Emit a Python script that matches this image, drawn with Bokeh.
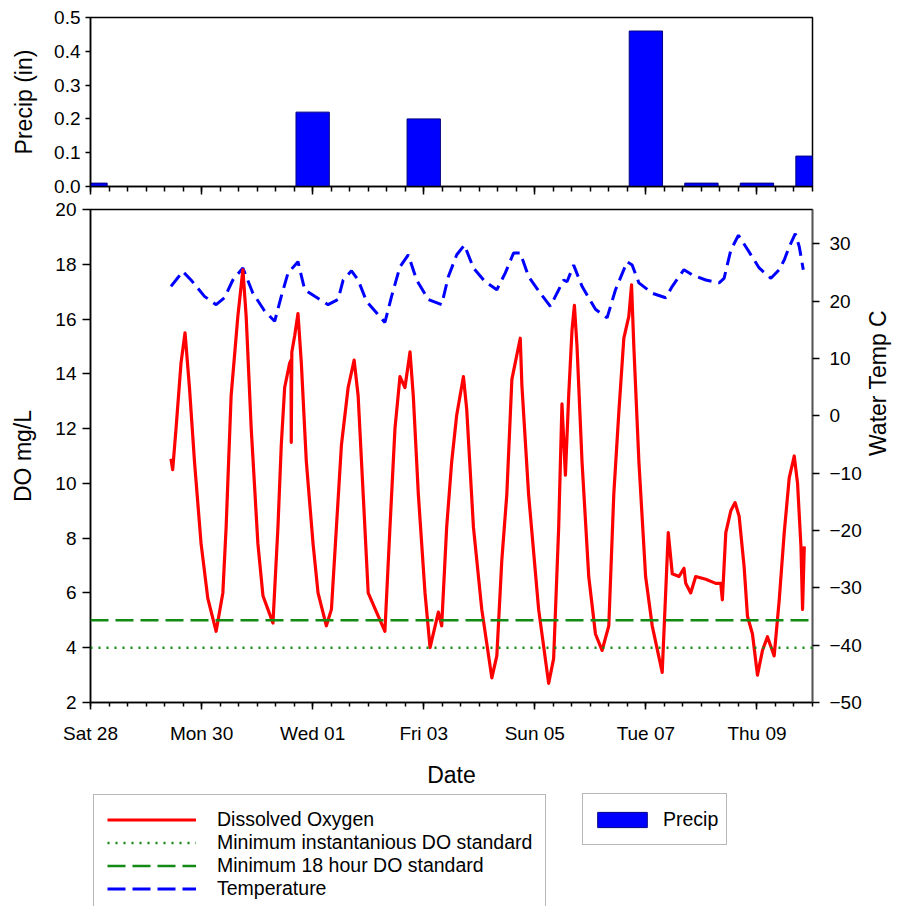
from datetime import datetime, timedelta
import math

from bokeh.plotting import figure
from bokeh.layouts import column
from bokeh.models import (Range1d, LinearAxis, FixedTicker, Span, Legend, LegendItem,
                          NumeralTickFormatter, DatetimeTickFormatter)
from bokeh.embed import file_html
from bokeh.resources import INLINE

# ---------------- data ----------------
START = datetime(2012, 7, 28)
END = datetime(2012, 8, 10)

precip_dates = ["2012-07-28", "2012-07-29", "2012-07-30", "2012-07-31", "2012-08-01",
                "2012-08-02", "2012-08-03", "2012-08-04", "2012-08-05", "2012-08-06",
                "2012-08-07", "2012-08-08", "2012-08-09", "2012-08-10"]
precip_in = [0.01, 0.0, 0.0, 0.0, 0.22, 0.0, 0.20, 0.0, 0.0, 0.0, 0.46, 0.01, 0.01, 0.09]

# dissolved oxygen: days after Sat 28 00:00, mg/L
do_days = [1.449, 1.480, 1.540, 1.630, 1.702, 1.782, 1.872, 1.991, 2.112, 2.262,
           2.383, 2.442, 2.532, 2.653, 2.744, 2.803, 2.894, 3.014, 3.105, 3.195,
           3.285, 3.375, 3.435, 3.496, 3.587, 3.610, 3.615, 3.625, 3.677, 3.736,
           3.796, 3.886, 4.007, 4.097, 4.247, 4.338, 4.428, 4.518, 4.639, 4.747,
           4.819, 4.910, 5.000, 5.181, 5.301, 5.392, 5.482, 5.572, 5.662, 5.753,
           5.812, 5.903, 6.023, 6.114, 6.264, 6.323, 6.413, 6.504, 6.594, 6.715,
           6.774, 6.895, 7.045, 7.226, 7.316, 7.406, 7.496, 7.587, 7.738, 7.767,
           7.888, 8.069, 8.249, 8.339, 8.430, 8.489, 8.551, 8.610, 8.670, 8.713,
           8.760, 8.850, 8.971, 9.092, 9.211, 9.332, 9.422, 9.513, 9.603, 9.693,
           9.742, 9.783, 9.874, 9.995, 10.114, 10.294, 10.356, 10.403, 10.475, 10.596,
           10.686, 10.717, 10.807, 10.897, 11.078, 11.258, 11.348, 11.377, 11.439, 11.529,
           11.606, 11.679, 11.769, 11.829, 11.919, 12.009, 12.099, 12.189, 12.310, 12.401,
           12.491, 12.581, 12.671, 12.731, 12.792, 12.821, 12.852]
do_mgl = [10.9, 10.5, 12.0, 14.4, 15.5, 13.5, 10.8, 7.8, 5.8, 4.6,
          6.0, 8.4, 13.2, 16.1, 17.8, 16.1, 12.0, 7.8, 5.9, 5.4,
          4.9, 8.4, 11.4, 13.5, 14.4, 14.5, 11.5, 14.8, 15.4, 16.2,
          14.4, 10.8, 7.8, 6.0, 4.8, 5.4, 8.4, 11.4, 13.5, 14.5,
          13.2, 9.6, 6.0, 5.15, 4.6, 8.4, 12.0, 13.9, 13.5, 14.8,
          13.2, 9.6, 6.0, 4.0, 5.3, 4.8, 8.4, 10.8, 12.5, 13.9,
          12.7, 8.4, 5.4, 2.9, 3.7, 7.2, 9.6, 13.8, 15.3, 13.6,
          9.6, 5.4, 2.7, 3.6, 8.4, 12.9, 10.3, 13.2, 15.6, 16.5,
          15.0, 10.8, 6.6, 4.5, 3.9, 4.8, 9.6, 12.6, 15.3, 16.1,
          17.25, 15.0, 10.8, 6.6, 4.8, 3.1, 6.0, 8.2, 6.7, 6.6,
          6.9, 6.35, 6.0, 6.6, 6.5, 6.35, 6.35, 5.75, 8.2, 9.0,
          9.3, 8.8, 6.95, 5.15, 4.5, 3.0, 3.9, 4.4, 3.7, 5.75,
          8.2, 10.2, 11.0, 10.0, 7.7, 5.4, 7.7]

# water temperature: days after Sat 28 00:00, deg C
temp_days = [1.449, 1.540, 1.661, 1.810, 2.052, 2.262, 2.413, 2.563, 2.744, 2.924,
             3.135, 3.316, 3.435, 3.556, 3.736, 3.857, 4.038, 4.278, 4.458, 4.549,
             4.699, 4.819, 4.969, 5.301, 5.421, 5.572, 5.722, 5.872, 6.083, 6.323,
             6.444, 6.594, 6.733, 6.895, 7.106, 7.316, 7.467, 7.617, 7.738, 7.888,
             8.099, 8.280, 8.399, 8.520, 8.580, 8.700, 8.850, 9.092, 9.301, 9.453,
             9.662, 9.753, 9.874, 10.114, 10.356, 10.475, 10.686, 10.836, 11.078, 11.318,
             11.408, 11.529, 11.666, 11.799, 12.040, 12.251, 12.401, 12.491, 12.581, 12.690,
             12.762, 12.834]
temp_c = [22.6, 23.7, 25.2, 23.7, 20.85, 19.4, 20.6, 23.7, 25.8, 21.4,
          18.3, 16.5, 20.85, 24.9, 26.9, 22.0, 20.85, 19.4, 20.3, 23.7,
          25.3, 23.7, 20.0, 16.3, 20.85, 26.0, 28.1, 23.7, 20.3, 19.4,
          24.3, 28.1, 29.8, 25.8, 23.4, 22.0, 24.9, 28.4, 28.4, 24.3,
          21.4, 19.1, 21.4, 23.7, 23.4, 26.3, 22.6, 18.6, 17.1, 22.0,
          26.9, 26.3, 23.2, 21.4, 20.6, 22.6, 25.5, 24.6, 23.7, 23.2,
          24.0, 28.9, 31.5, 29.5, 25.8, 24.0, 25.5, 27.2, 29.5, 31.8,
          29.5, 25.5]

do_std_instant = 4.0
do_std_18h = 5.0

x_tick_labels = ["Sat 28", "Mon 30", "Wed 01", "Fri 03", "Sun 05", "Tue 07", "Thu 09"]
precip_ticks = [0.0, 0.1, 0.2, 0.3, 0.4, 0.5]
do_ticks = [2, 4, 6, 8, 10, 12, 14, 16, 18, 20]
temp_ticks = [-50, -40, -30, -20, -10, 0, 10, 20, 30]

# ---------------- helpers ----------------
FONT = "Liberation Sans"
EPOCH = datetime(1970, 1, 1)


def ms(dt):
    return (dt - EPOCH).total_seconds() * 1000.0


major_ms = [ms(START + timedelta(days=2 * i)) for i in range(len(x_tick_labels))]
minor_ms = [ms(START + timedelta(hours=8 * i)) for i in range(13 * 3 + 1)]
overrides = {m: lab for m, lab in zip(major_ms, x_tick_labels)}

precip_x = [datetime.strptime(d, "%Y-%m-%d") for d in precip_dates]
do_x = [START + timedelta(days=d) for d in do_days]
temp_x = [START + timedelta(days=d) for d in temp_days]

GREEN = "#138a13"
BL, FW, BR = 90, 722, 94
W = BL + FW + BR


def style_common(p):
    p.xgrid.visible = False
    p.ygrid.visible = False
    p.outline_line_color = "black"
    p.outline_line_width = 1.5
    p.background_fill_color = "white"
    p.border_fill_color = "white"


def style_axis(ax, tick_out, standoff):
    ax.axis_line_color = "black"
    ax.axis_line_width = 1.5
    ax.major_tick_line_color = "black"
    ax.major_tick_line_width = 1.5
    ax.major_tick_in = 0
    ax.major_tick_out = tick_out
    ax.major_label_text_font = FONT
    ax.major_label_text_font_size = "19px"
    ax.major_label_text_color = "black"
    ax.major_label_standoff = standoff
    ax.axis_label_text_font = FONT
    ax.axis_label_text_font_size = "23px"
    ax.axis_label_text_font_style = "normal"
    ax.axis_label_text_color = "black"


x_range = Range1d(START, END)

# ---------------- top panel: precipitation ----------------
top = figure(width=W, height=200, x_axis_type="datetime", x_range=x_range,
             y_range=Range1d(0, 0.5), output_backend="svg", toolbar_location=None,
             min_border_left=BL, min_border_right=BR, min_border_top=17, min_border_bottom=14)
style_common(top)
top.vbar(x=precip_x, top=precip_in, width=0.6 * 86400000, bottom=0,
         fill_color="#0000ff", line_color="#000080", line_width=1)

txa = top.xaxis[0]
style_axis(txa, 8, 0)
txa.ticker = FixedTicker(ticks=major_ms, minor_ticks=minor_ms)
txa.major_label_text_font_size = "0px"
txa.major_label_text_color = None
txa.minor_tick_line_color = "black"
txa.minor_tick_line_width = 1.5
txa.minor_tick_in = 0
txa.minor_tick_out = 5

tya = top.yaxis[0]
style_axis(tya, 5, 5)
tya.ticker = FixedTicker(ticks=precip_ticks)
tya.formatter = NumeralTickFormatter(format="0.0")
tya.minor_tick_line_color = None
tya.axis_label = "Precip (in)"
tya.axis_label_standoff = 14

# ---------------- bottom panel: DO and temperature ----------------
bot = figure(width=W, height=590, x_axis_type="datetime", x_range=x_range,
             y_range=Range1d(2, 20), output_backend="svg", toolbar_location=None,
             min_border_left=BL, min_border_right=BR, min_border_top=9, min_border_bottom=83)
style_common(bot)
bot.extra_y_ranges = {"temp": Range1d(-50, 36)}

bot.add_layout(Span(location=do_std_18h, dimension="width", line_color=GREEN,
                    line_width=2.5, line_dash="18 7"))
bot.add_layout(Span(location=do_std_instant, dimension="width", line_color=GREEN,
                    line_width=2.5, line_dash="2 6"))
bot.line(x=temp_x, y=temp_c, y_range_name="temp", line_color="#0000ff",
         line_width=3, line_dash="14 7")
bot.line(x=do_x, y=do_mgl, line_color="#ff0000", line_width=3.2, line_join="round")

bxa = bot.xaxis[0]
style_axis(bxa, 7, 13)
bxa.ticker = FixedTicker(ticks=major_ms, minor_ticks=minor_ms)
bxa.formatter = DatetimeTickFormatter(days="%a %d", hours="%a %d", months="%a %d")
bxa.major_label_overrides = overrides
bxa.minor_tick_line_color = "black"
bxa.minor_tick_line_width = 1.5
bxa.minor_tick_in = 0
bxa.minor_tick_out = 4
bxa.axis_label = "Date"
bxa.axis_label_standoff = 15

bya = bot.yaxis[0]
style_axis(bya, 8, 6)
bya.ticker = FixedTicker(ticks=do_ticks)
bya.minor_tick_line_color = None
bya.axis_label = "DO mg/L"
bya.axis_label_standoff = 16

rax = LinearAxis(y_range_name="temp", axis_label="Water Temp C")
style_axis(rax, 7, 10)
rax.axis_line_color = "#555555"
rax.ticker = FixedTicker(ticks=temp_ticks)
rax.minor_tick_line_color = None
rax.axis_label_standoff = 13
if "axis_label_orientation" in LinearAxis.properties():
    rax.axis_label_orientation = math.pi / 2
bot.add_layout(rax, "right")

# ---------------- legend area ----------------
lg = figure(width=W, height=116, x_range=Range1d(0, 1), y_range=Range1d(0, 1),
            output_backend="svg", toolbar_location=None,
            x_axis_location=None, y_axis_location=None,
            min_border_left=BL, min_border_right=BR,
            min_border_top=0, min_border_bottom=0)
lg.outline_line_color = None
lg.xgrid.visible = False
lg.ygrid.visible = False

# off-screen samples only carry the legend styles
r_do = lg.line(x=[-9, -8], y=[-9, -8], line_color="#ff0000", line_width=3)
r_inst = lg.line(x=[-9, -8], y=[-9, -8], line_color=GREEN, line_width=2.5, line_dash="2 6")
r_18 = lg.line(x=[-9, -8], y=[-9, -8], line_color=GREEN, line_width=2.5, line_dash="18 7")
r_t = lg.line(x=[-9, -8], y=[-9, -8], line_color="#0000ff", line_width=3, line_dash="18 7")
r_p = lg.vbar(x=[-9], top=[-8], bottom=-9, width=1, fill_color="#0000ff", line_color="#000080")

leg1 = Legend(items=[LegendItem(label="Dissolved Oxygen", renderers=[r_do]),
                     LegendItem(label="Minimum instantanious DO standard", renderers=[r_inst]),
                     LegendItem(label="Minimum 18 hour DO standard", renderers=[r_18]),
                     LegendItem(label="Temperature", renderers=[r_t])],
              location=(3, -8), orientation="vertical", padding=13, spacing=0,
              glyph_width=89, glyph_height=21, label_height=21, label_standoff=21,
              label_text_font=FONT, label_text_font_size="19.5px", label_text_color="black",
              border_line_color="#707070", border_line_width=1.5, margin=0)
leg2 = Legend(items=[LegendItem(label="Precip", renderers=[r_p])],
              location=(492, 61), orientation="vertical", padding=8, spacing=0,
              glyph_width=62, glyph_height=19, label_height=34, label_standoff=10,
              label_text_font=FONT, label_text_font_size="19.5px", label_text_color="black",
              border_line_color="#707070", border_line_width=1.5, margin=0)
lg.add_layout(leg1, "center")
lg.add_layout(leg2, "center")

layout = column(top, bot, lg)
open("out.html", "w").write(file_html(layout, INLINE))
